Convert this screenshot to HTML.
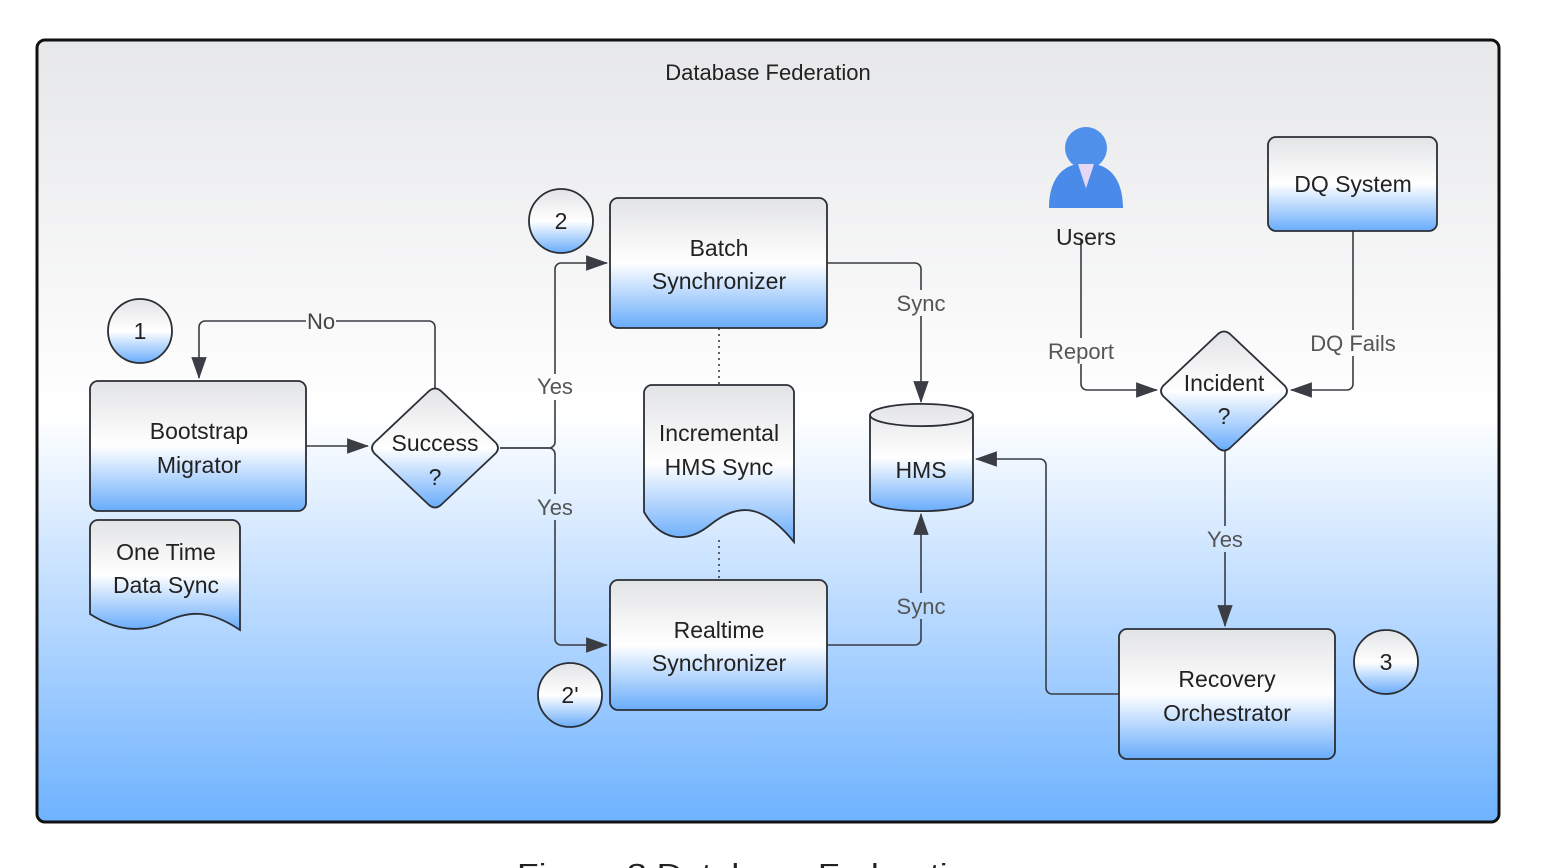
<!DOCTYPE html>
<html><head><meta charset="utf-8"><style>
html,body{margin:0;padding:0;background:#fff;width:1556px;height:868px;overflow:hidden}
text{font-family:"Liberation Sans",sans-serif}
</style></head><body>
<svg width="1556" height="868" viewBox="0 0 1556 868" xmlns="http://www.w3.org/2000/svg">
<defs>
<linearGradient id="bg" gradientUnits="userSpaceOnUse" x1="0" y1="40" x2="0" y2="822">
<stop offset="0" stop-color="#e6e7e9"/><stop offset="0.48" stop-color="#ffffff"/><stop offset="1" stop-color="#6eb2ff"/>
</linearGradient>
<linearGradient id="nd" x1="0" y1="0" x2="0" y2="1">
<stop offset="0" stop-color="#e2e3e5"/><stop offset="0.5" stop-color="#ffffff"/><stop offset="1" stop-color="#68acfb"/>
</linearGradient>
<marker id="arb" viewBox="0 0 20 14" refX="19" refY="7" markerWidth="22" markerHeight="16" markerUnits="userSpaceOnUse" orient="auto">
<path d="M0,0 L20,7 L0,14 z" fill="#3a3d44"/>
</marker>
</defs>
<rect x="37" y="40" width="1462" height="782" rx="8" fill="url(#bg)" stroke="#111" stroke-width="3"/>
<text x="768" y="80" font-size="22" text-anchor="middle" fill="#222">Database Federation</text>

<g fill="none" stroke="#3a3d44" stroke-width="1.6">
<path d="M435,388 V327 a6,6 0 0 0 -6,-6 H205 a6,6 0 0 0 -6,6 V378" marker-end="url(#arb)"/>
<path d="M306,446 H368" marker-end="url(#arb)"/>
<path d="M500,448 H549 a6,6 0 0 0 6,-6 V269 a6,6 0 0 1 6,-6 H607" marker-end="url(#arb)"/>
<path d="M500,448 H549 a6,6 0 0 1 6,6 V639 a6,6 0 0 0 6,6 H607" marker-end="url(#arb)"/>
<path d="M827,263 H915 a6,6 0 0 1 6,6 V402" marker-end="url(#arb)"/>
<path d="M827,645 H915 a6,6 0 0 0 6,-6 V514" marker-end="url(#arb)"/>
<path d="M1119,694 H1052 a6,6 0 0 1 -6,-6 V465 a6,6 0 0 0 -6,-6 H976" marker-end="url(#arb)"/>
<path d="M1081,240 V384 a6,6 0 0 0 6,6 H1157" marker-end="url(#arb)"/>
<path d="M1353,231 V384 a6,6 0 0 1 -6,6 H1291" marker-end="url(#arb)"/>
<path d="M1225,451 V626" marker-end="url(#arb)"/>
<path d="M719,328 V385 M719,540 V580" stroke-dasharray="2,4"/>
</g>

<g font-size="22" fill="#555" text-anchor="middle">
<rect x="306" y="310" width="30" height="22" fill="url(#bg)"/>
<text x="321" y="329" fill="#444">No</text>
<rect x="533" y="374" width="44" height="26" fill="url(#bg)"/>
<text x="555" y="394">Yes</text>
<rect x="533" y="494" width="44" height="26" fill="url(#bg)"/>
<text x="555" y="515">Yes</text>
<rect x="893" y="290" width="56" height="26" fill="url(#bg)"/>
<text x="921" y="311">Sync</text>
<rect x="893" y="593" width="56" height="26" fill="url(#bg)"/>
<text x="921" y="614">Sync</text>
<rect x="1041" y="338" width="80" height="26" fill="url(#bg)"/>
<text x="1081" y="359">Report</text>
<rect x="1303" y="330" width="100" height="26" fill="url(#bg)"/>
<text x="1353" y="351">DQ Fails</text>
<rect x="1203" y="526" width="44" height="26" fill="url(#bg)"/>
<text x="1225" y="547">Yes</text>
</g>

<g stroke="#2b2e35" stroke-width="1.8" fill="url(#nd)">
<circle cx="140" cy="331" r="32"/>
<circle cx="561" cy="221" r="32"/>
<circle cx="570" cy="695" r="32"/>
<circle cx="1386" cy="662" r="32"/>
<rect x="90" y="381" width="216" height="130" rx="8"/>
<rect x="610" y="198" width="217" height="130" rx="8"/>
<rect x="610" y="580" width="217" height="130" rx="8"/>
<rect x="1268" y="137" width="169" height="94" rx="8"/>
<rect x="1119" y="629" width="216" height="130" rx="8"/>
<path d="M429,391 Q435,386 441,391 L496,443 Q500,448 496,453 L441,505 Q435,510 429,505 L374,453 Q370,448 374,443 z"/>
<path d="M1218,334 Q1224,329 1230,334 L1285,386 Q1289,391 1285,396 L1230,448 Q1224,453 1218,448 L1163,396 Q1159,391 1163,386 z"/>
<path d="M98,520 H232 a8,8 0 0 1 8,8 V630 C210,610 190,610 165,622 C140,634 115,630 90,614 V528 a8,8 0 0 1 8,-8 z"/>
<path d="M652,385 H786 a8,8 0 0 1 8,8 V542 C760,500 735,505 710,525 C685,545 660,540 644,512 V393 a8,8 0 0 1 8,-8 z"/>
<path d="M870,415 V500 A51,11 0 0 0 973,500 V415 A51,11 0 0 0 870,415 z"/>
<path d="M870,415 A51,11 0 0 0 973,415" fill="none"/>
</g>

<g>
<circle cx="1086" cy="148" r="21" fill="#4f90ea"/>
<path d="M1049,208 C1049,180 1062,166 1078,164 L1086,188 L1094,164 C1110,166 1123,180 1123,208 z" fill="#4a8ae8"/>
<path d="M1078,164 L1094,164 L1086,188 z" fill="#e6d6f5"/>
</g>

<g font-size="23" fill="#222" text-anchor="middle">
<text x="140" y="339">1</text>
<text x="561" y="229">2</text>
<text x="570" y="703">2'</text>
<text x="1386" y="670">3</text>
<text x="199" y="439">Bootstrap</text>
<text x="199" y="473">Migrator</text>
<text x="435" y="451">Success</text>
<text x="435" y="485">?</text>
<text x="166" y="560">One Time</text>
<text x="166" y="593">Data Sync</text>
<text x="719" y="256">Batch</text>
<text x="719" y="289">Synchronizer</text>
<text x="719" y="441">Incremental</text>
<text x="719" y="475">HMS Sync</text>
<text x="719" y="638">Realtime</text>
<text x="719" y="671">Synchronizer</text>
<text x="921" y="478">HMS</text>
<text x="1086" y="245">Users</text>
<text x="1353" y="192">DQ System</text>
<text x="1224" y="391">Incident</text>
<text x="1224" y="424">?</text>
<text x="1227" y="687">Recovery</text>
<text x="1227" y="721">Orchestrator</text>
</g>
<text x="517" y="883" font-size="28" textLength="470" lengthAdjust="spacingAndGlyphs" fill="#222">Figure 3 Database Federation</text>
</svg>
</body></html>
